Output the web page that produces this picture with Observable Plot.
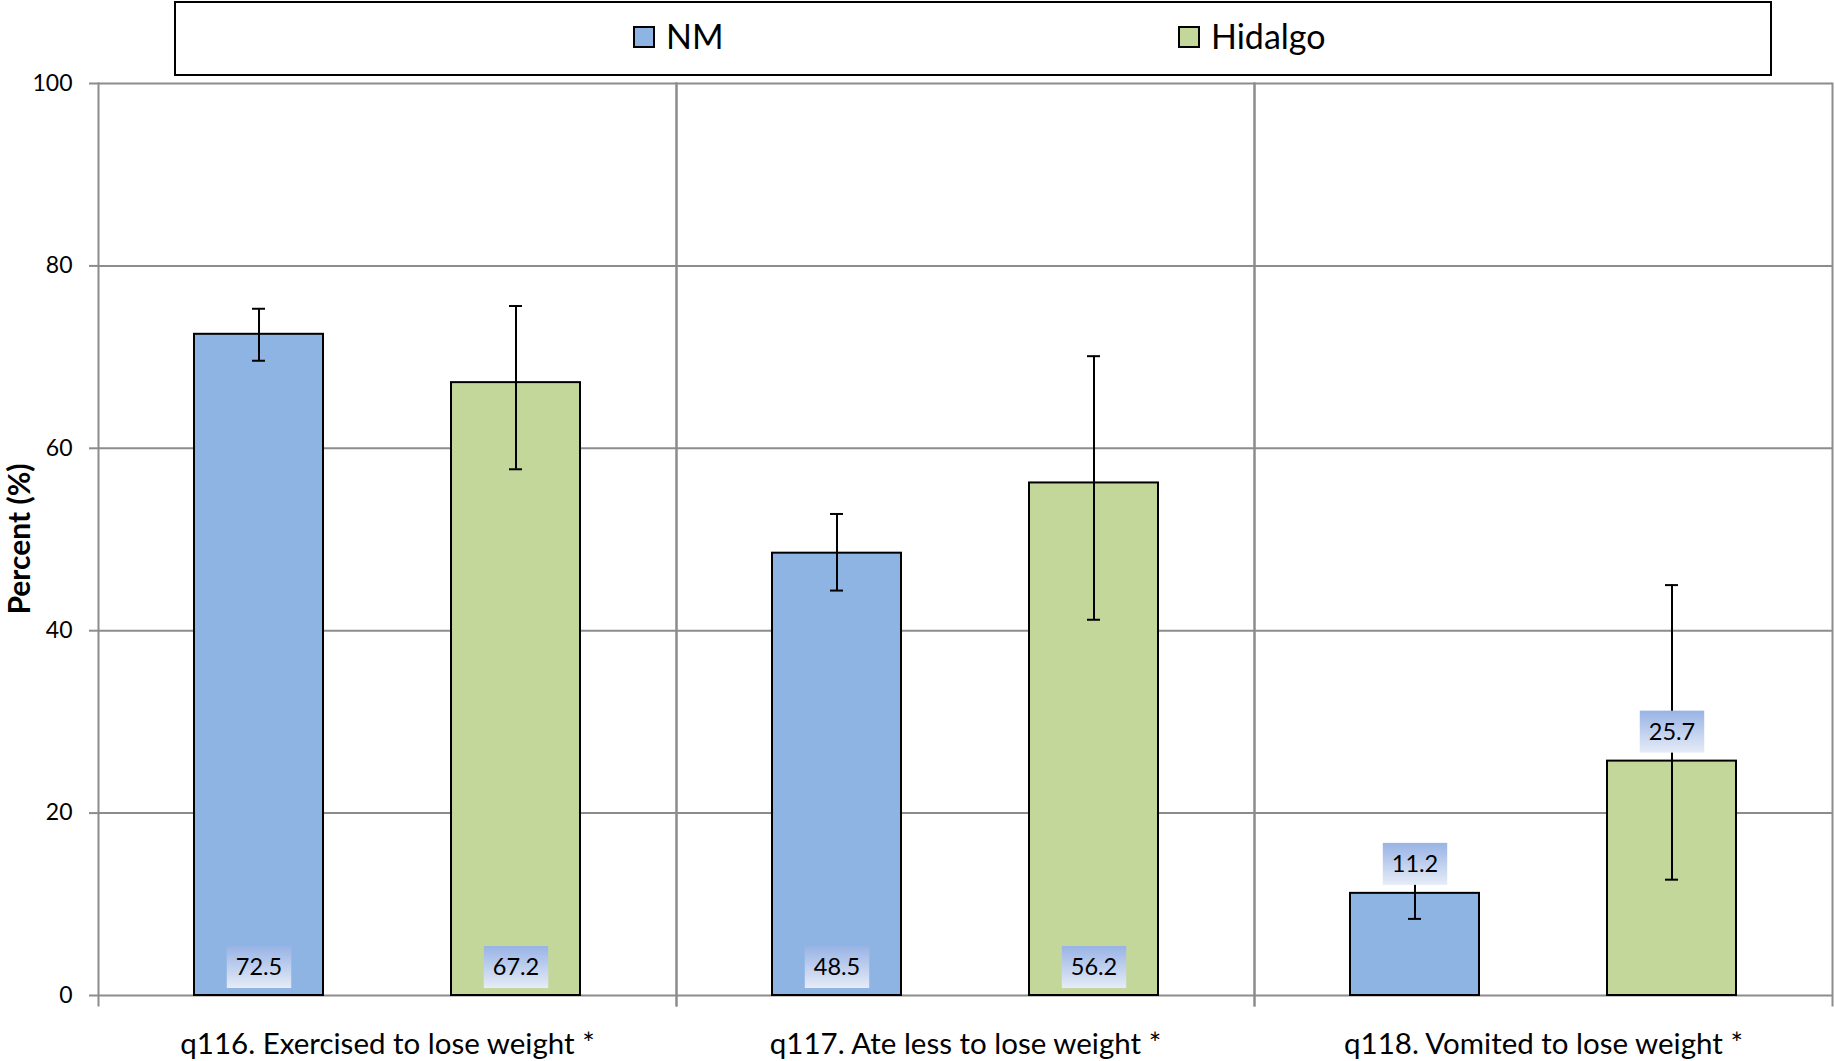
<!DOCTYPE html>
<html>
<head>
<meta charset="utf-8">
<script src="https://cdn.jsdelivr.net/npm/d3@7"></script>
<script src="https://cdn.jsdelivr.net/npm/@observablehq/plot@0.6"></script>
<style>
  html, body { margin: 0; padding: 0; background: #fff; overflow: hidden; }
  #wrap { position: relative; width: 1835px; height: 1061px; font-family: Lato, sans-serif; }
  #chart { position: absolute; left: 0; top: 0; }
  #chart svg { display: block; }
  #legend {
    position: absolute; left: 174px; top: 1px; width: 1594px; height: 71px; border: 2px solid #000;
    box-sizing: content-box; background: #fff; z-index: 1;
  }
  .item { position: absolute; top: 0; height: 71px; display: flex; align-items: center; font-size: 34px; color: #000; margin-top: -3px; }
  .sw { width: 18px; height: 18px; border: 2px solid #000; margin-right: 11px; margin-top: 3px; }
</style>
</head>
<body>
<div id="wrap">
  <div id="chart"></div>
  <div id="legend"></div>
</div>
<script>
// ---- data ----
const categories = ["q116. Exercised to lose weight *", "q117. Ate less to lose weight *", "q118. Vomited to lose weight *"];
const groups = ["NM", "Hidalgo"];
const nmValues = [72.5, 48.5, 11.2];
const nmLower = [69.6, 44.4, 8.4];
const nmUpper = [75.3, 52.8, 14.5];
const hidalgoValues = [67.2, 56.2, 25.7];
const hidalgoLower = [57.7, 41.2, 12.7];
const hidalgoUpper = [75.6, 70.1, 45.0];
const yTicks = [0, 20, 40, 60, 80, 100];
const yTitle = "Percent (%)";
const colors = ["#8EB4E3", "#C4D79B"];

const data = categories.flatMap((c, i) => [
  {cat: c, grp: groups[0], v: nmValues[i], lo: nmLower[i], hi: nmUpper[i]},
  {cat: c, grp: groups[1], v: hidalgoValues[i], lo: hidalgoLower[i], hi: hidalgoUpper[i]}
]);

// ---- legend ----
const legend = document.getElementById("legend");
const itemLeft = [457, 1002];
groups.forEach((g, i) => {
  const it = document.createElement("div");
  it.className = "item";
  it.style.left = itemLeft[i] + "px";
  const sw = document.createElement("div");
  sw.className = "sw";
  sw.style.background = colors[i];
  const t = document.createElement("span");
  t.textContent = g;
  it.appendChild(sw); it.appendChild(t);
  legend.appendChild(it);
});

// ---- chart ----
const grid = "#8c8c8c";
const plot = Plot.plot({
  width: 1835, height: 1061,
  marginTop: 83, marginBottom: 66, marginLeft: 97, marginRight: 2,
  style: {fontFamily: "Lato, sans-serif", color: "#000", background: "transparent"},
  fx: {domain: categories, padding: 0, label: null},
  x: {domain: groups, paddingInner: 0.5, paddingOuter: 0.373, axis: null},
  y: {domain: [0, 100], axis: null},
  color: {domain: groups, range: colors},
  marks: [
    Plot.ruleY(yTicks, {stroke: grid, strokeWidth: 2}),
    Plot.frame({anchor: "left", stroke: grid, strokeWidth: 2, insetBottom: -10}),
    Plot.frame({anchor: "right", stroke: grid, strokeWidth: 2, insetBottom: -10}),
    Plot.axisY({ticks: yTicks, tickSize: 9, tickPadding: 17, fontSize: 23, label: null, stroke: grid, strokeWidth: 2, tickFormat: d => String(d)}),
    Plot.axisFx({anchor: "bottom", tickSize: 0, tickPadding: 38, fontSize: 29.5, label: null}),
    Plot.barY(data, {fx: "cat", x: "grp", y: "v", fill: "grp", stroke: "#000", strokeWidth: 2}),
    Plot.ruleX(data, {fx: "cat", x: "grp", y1: "lo", y2: "hi", stroke: "#000", strokeWidth: 2}),
    Plot.tickY(data, {fx: "cat", x: "grp", y: "lo", stroke: "#000", strokeWidth: 2, insetLeft: 58, insetRight: 58}),
    Plot.tickY(data, {fx: "cat", x: "grp", y: "hi", stroke: "#000", strokeWidth: 2, insetLeft: 58, insetRight: 58}),
    Plot.text(data, {filter: d => d.v >= 30, fx: "cat", x: "grp", y: d => 0, dy: -28, text: d => d.v.toFixed(1), fontSize: 23.5, fill: "#000", className: "vlabel"}),
    Plot.text(data, {filter: d => d.v < 30, fx: "cat", x: "grp", y: "v", dy: -29, text: d => d.v.toFixed(1), fontSize: 23.5, fill: "#000", className: "vlabel"})
  ]
});
document.getElementById("chart").appendChild(plot);

// gradient boxes behind value labels
const svg = d3.select(plot);
const defs = svg.insert("defs", ":first-child");
const lg = defs.append("linearGradient").attr("id", "lblgrad").attr("x1", 0).attr("y1", 0).attr("x2", 0).attr("y2", 1);
lg.append("stop").attr("offset", "0%").attr("stop-color", "#98b3e5");
lg.append("stop").attr("offset", "100%").attr("stop-color", "#e6ecf7");
plot.querySelectorAll(".vlabel text").forEach(t => {
  const b = t.getBBox();
  const w = b.width + 18, h = 42;
  const cx = b.x + b.width / 2, cy = b.y + b.height / 2 + 1;
  const r = document.createElementNS("http://www.w3.org/2000/svg", "rect");
  r.setAttribute("x", cx - w / 2);
  r.setAttribute("y", cy - h / 2);
  r.setAttribute("width", w);
  r.setAttribute("height", h);
  r.setAttribute("fill", "url(#lblgrad)");
  if (t.getAttribute("transform")) r.setAttribute("transform", t.getAttribute("transform"));
  t.parentNode.insertBefore(r, t);
});

// y-axis title
const ys = plot.scale("y");
const yMid = (ys.apply(0) + ys.apply(100)) / 2;
svg.append("text")
  .attr("transform", `translate(18,${yMid}) rotate(-90)`)
  .attr("text-anchor", "middle")
  .attr("dominant-baseline", "central")
  .attr("font-family", "Lato, sans-serif")
  .attr("font-weight", "bold")
  .attr("font-size", 30)
  .attr("fill", "#000")
  .text(yTitle);
</script>
</body>
</html>
